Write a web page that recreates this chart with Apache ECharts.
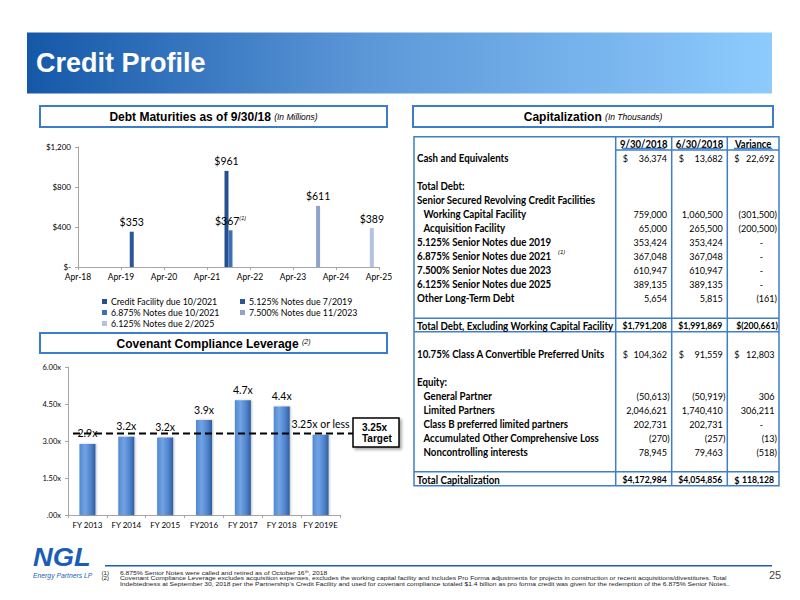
<!DOCTYPE html>
<html>
<head>
<meta charset="utf-8">
<script src="https://cdn.jsdelivr.net/npm/echarts@6/dist/echarts.min.js"></script>
<style>
html, body { margin: 0; padding: 0; background: #fff; }
#main { width: 800px; height: 600px; }
</style>
</head>
<body>
<div id="main"></div>
<script>
// debt maturities (in millions)
const maturityNames = ['Credit Facility due 10/2021', '5.125% Notes due 7/2019', '6.875% Notes due 10/2021', '7.500% Notes due 11/2023', '6.125% Notes due 2/2025'];
const maturityDates = ['2021-10', '2019-07', '2021-10', '2023-11', '2025-02'];
const maturityAmounts = [961, 353, 367, 611, 389];
const maturityNotes = ['', '', '(1)', '', ''];
const maturityTicks = ['Apr-18', 'Apr-19', 'Apr-20', 'Apr-21', 'Apr-22', 'Apr-23', 'Apr-24', 'Apr-25'];
const maturityYTicks = ['$-', '$400', '$800', '$1,200'];

// covenant compliance leverage
const leverageYears = ['FY 2013', 'FY 2014', 'FY 2015', 'FY2016', 'FY 2017', 'FY 2018', 'FY 2019E'];
const leverageValues = [2.88, 3.17, 3.14, 3.85, 4.65, 4.4, 3.25];
const leverageLabels = ['2.9x', '3.2x', '3.2x', '3.9x', '4.7x', '4.4x', '3.25x or less'];
const leverageYTicks = ['.00x', '1.50x', '3.00x', '4.50x', '6.00x'];
const targetLevel = 3.3;

// capitalization (in thousands)
const capHeaders = ['9/30/2018', '6/30/2018', 'Variance'];
const capLabels = [
    'Cash and Equivalents', '', 'Total Debt:', 'Senior Secured Revolving Credit Facilities',
    'Working Capital Facility', 'Acquisition Facility', '5.125% Senior Notes due 2019',
    '6.875% Senior Notes due 2021', '7.500% Senior Notes due 2023', '6.125% Senior Notes due 2025',
    'Other Long-Term Debt', '', 'Total Debt, Excluding Working Capital Facility', '',
    '10.75% Class A Convertible Preferred Units', '', 'Equity:', 'General Partner', 'Limited Partners',
    'Class B preferred limited partners', 'Accumulated Other Comprehensive Loss', 'Noncontrolling interests',
    '', 'Total Capitalization'
];
const capSep = [
    '$ 36,374', '', '', '', '759,000', '65,000', '353,424', '367,048', '610,947', '389,135', '5,654', '',
    '$1,791,208', '', '$ 104,362', '', '', '(50,613)', '2,046,621', '202,731', '(270)', '78,945', '', '$4,172,984'
];
const capJun = [
    '$ 13,682', '', '', '', '1,060,500', '265,500', '353,424', '367,048', '610,947', '389,135', '5,815', '',
    '$1,991,869', '', '$ 91,559', '', '', '(50,919)', '1,740,410', '202,731', '(257)', '79,463', '', '$4,054,856'
];
const capVar = [
    '$ 22,692', '', '', '', '(301,500)', '(200,500)', '-', '-', '-', '-', '(161)', '',
    '$(200,661)', '', '$ 12,803', '', '', '306', '306,211', '-', '(13)', '(518)', '', '$ 118,128'
];
const capNoteRow = 7;

const maturityColors = ['#24508f', '#2b5796', '#3f70b6', '#8ea4cd', '#b3c2df'];
const tableLine = '#3f7ec8';
const calibri = 'Lato';

function monthsFromStart(d) {
    const [y, m] = d.split('-').map(Number);
    return (y - 2018) * 12 + (m - 4);
}

// bars sharing a date sit side by side on axis 0, the rest centred on axis 1
const debtSeries = maturityNames.map((name, i) => {
    const shared = maturityDates.filter(d => d === maturityDates[i]).length > 1;
    return {
        name: name,
        type: 'bar',
        xAxisIndex: shared ? 0 : 1,
        yAxisIndex: 0,
        barWidth: 4,
        barGap: shared ? '0%' : '-100%',
        itemStyle: { color: maturityColors[i] },
        data: [[monthsFromStart(maturityDates[i]), maturityAmounts[i]]],
        label: {
            show: true,
            position: 'top',
            distance: 4,
            color: '#000',
            formatter: () => maturityNotes[i]
                ? '{v|$' + maturityAmounts[i] + '}{n|' + maturityNotes[i] + '}'
                : '{v|$' + maturityAmounts[i] + '}',
            rich: {
                v: { fontSize: 10.5, fontFamily: calibri, color: '#000' },
                n: { fontSize: 5.5, fontStyle: 'italic', fontFamily: 'Liberation Sans', verticalAlign: 'top', color: '#000' }
            }
        }
    };
});

const barGradient = new echarts.graphic.LinearGradient(0, 0, 1, 0, [
    { offset: 0, color: '#5089d0' },
    { offset: 0.35, color: '#72a3e4' },
    { offset: 0.75, color: '#4c80c9' },
    { offset: 1, color: '#2d5e9e' }
]);

const graphics = [];

// banner
graphics.push({
    type: 'rect', shape: { x: 27, y: 32.5, width: 745, height: 61 },
    style: {
        fill: new echarts.graphic.LinearGradient(0, 0, 1, 0, [
            { offset: 0, color: '#1558a8' },
            { offset: 0.45, color: '#5b96d7' },
            { offset: 1, color: '#8ecbfd' }
        ])
    }
});
graphics.push({
    type: 'text', x: 36, y: 63,
    style: { text: 'Credit Profile', fill: '#fff', fontSize: 27, fontWeight: 'bold', fontFamily: 'Liberation Sans', verticalAlign: 'middle' }
});

// section header boxes
function headerBox(x, y, w, h, text) {
    graphics.push({ type: 'rect', shape: { x: x, y: y, width: w, height: h }, style: { fill: '#fff', stroke: '#3b7dc9', lineWidth: 2 } });
    graphics.push({
        type: 'text', x: x + w / 2, y: y + h / 2 + 0.5,
        style: {
            text: text, align: 'center', verticalAlign: 'middle',
            rich: {
                b: { fontSize: 12, fontWeight: 'bold', fontFamily: 'Liberation Sans', fill: '#000' },
                i: { fontSize: 8.5, fontStyle: 'italic', fontFamily: 'Liberation Sans', fill: '#000' },
                s: { fontSize: 7, fontStyle: 'italic', fontFamily: 'Liberation Sans', fill: '#000', verticalAlign: 'top' }
            }
        }
    });
}
headerBox(40, 106, 347, 21, '{b|Debt Maturities as of 9/30/18} {i|(In Millions)}');
headerBox(40, 333, 347, 20, '{b|Covenant Compliance Leverage} {s|(2)}');
headerBox(413, 106, 360, 21, '{b|Capitalization} {i|(In Thousands)}');

// target box
graphics.push({
    type: 'rect', shape: { x: 353, y: 418, width: 46, height: 29 },
    style: { fill: '#fff', stroke: '#000', lineWidth: 1.5, shadowBlur: 3, shadowOffsetX: 2, shadowOffsetY: 2, shadowColor: 'rgba(0,0,0,0.35)' }
});
graphics.push({
    type: 'text', x: 362, y: 432.5,
    style: { text: '3.25x\nTarget', fontSize: 10, lineHeight: 11, fontWeight: 'bold', fontFamily: 'Liberation Sans', fill: '#000', verticalAlign: 'middle' }
});

// capitalization table
const tLeft = 414, tRight = 779, tTop = 136.7, tBottom = 485.7;
const colEdges = [615.7, 671.7, 727.3, 779];
const rowY = i => 157.3 + 14 * i;
function hLine(x1, x2, y) {
    graphics.push({ type: 'line', shape: { x1: x1, y1: y, x2: x2, y2: y }, style: { stroke: tableLine, lineWidth: 1.5 } });
}
function vLine(x, y1, y2) {
    graphics.push({ type: 'line', shape: { x1: x, y1: y1, x2: x, y2: y2 }, style: { stroke: tableLine, lineWidth: 1.5 } });
}
graphics.push({ type: 'rect', shape: { x: tLeft, y: tTop, width: tRight - tLeft, height: tBottom - tTop }, style: { fill: 'none', stroke: tableLine, lineWidth: 1.5 } });
colEdges.slice(0, 3).forEach(x => vLine(x, tTop, tBottom));
hLine(colEdges[0], tRight, 150);
hLine(tLeft, tRight, rowY(12) - 7);
hLine(tLeft, tRight, rowY(12) + 6.5);
hLine(tLeft, tRight, rowY(23) - 7.5);

function cellText(x, y, text, opts, scale) {
    graphics.push({
        type: 'text', x: x, y: y, scaleX: scale || 0.88,
        style: Object.assign({
            text: text, fontSize: 10.3, fontFamily: calibri, fill: '#000',
            align: 'left', verticalAlign: 'middle'
        }, opts || {})
    });
}

capHeaders.forEach((h, c) => {
    const cx = (colEdges[c] + colEdges[c + 1]) / 2;
    cellText(cx, rowY(-1), h, { align: 'center', fontWeight: 'bold', fontSize: 10.8 });
    const w = h.length * 4.8;
    hLine(cx - w / 2, cx + w / 2, 148.5);
});

const totalRows = [12, 23];
const indentRows = [4, 5, 17, 18, 19, 20, 21];
capLabels.forEach((label, i) => {
    if (!label) return;
    const x = indentRows.includes(i) ? 423.5 : 417;
    cellText(x, rowY(i), label, { fontWeight: 'bold', fontSize: 10.8 }, 0.9);
});
cellText(558, rowY(capNoteRow) - 3.5, '(1)', { fontSize: 6, fontStyle: 'italic', fontFamily: 'Liberation Sans' }, 1);

[capSep, capJun, capVar].forEach((col, c) => {
    const left = colEdges[c], right = colEdges[c + 1];
    col.forEach((v, i) => {
        if (!v) return;
        const bold = totalRows.includes(i);
        const weight = bold ? 'bold' : 'normal';
        let text = v;
        if (v.startsWith('$ ')) {
            cellText(left + 7, rowY(i), '$', { fontWeight: weight });
            text = v.slice(2);
        }
        let edge;
        if (text === '-') edge = right - 16;
        else if (text.endsWith(')')) edge = right - (bold ? 1 : 2);
        else edge = right - (bold ? 5 : 4.6);
        cellText(edge, rowY(i), text, { align: 'right', fontWeight: weight }, bold ? 0.84 : 0.88);
    });
});

// footer
graphics.push({ type: 'line', shape: { x1: 105, y1: 565.7, x2: 772, y2: 565.7 }, style: { stroke: '#1f5fa8', lineWidth: 1.5 } });
graphics.push({
    type: 'text', x: 33, y: 557, scaleX: 1.05,
    style: { text: 'NGL', fontSize: 26, fontWeight: 'bold', fontStyle: 'italic', fontFamily: 'Liberation Sans', fill: '#1a5fb4', verticalAlign: 'middle' }
});
graphics.push({
    type: 'text', x: 33, y: 575.5,
    style: { text: 'Energy Partners LP', fontSize: 6.8, fontStyle: 'italic', fontFamily: 'Liberation Sans', fill: '#1a5fb4', verticalAlign: 'middle' }
});
const footnotes = [
    ['(1)', '{t|6.875% Senior Notes were called and retired as of October 16}{s|th}{t|, 2018}'],
    ['(2)', '{t|Covenant Compliance Leverage excludes acquisition expenses, excludes the working capital facility and includes Pro Forma adjustments for projects in construction or recent acquisitions/divestitures. Total}'],
    ['', '{t|Indebtedness at September 30, 2018 per the Partnership\u2019s Credit Facility and used for covenant compliance totaled $1.4 billion as pro forma credit was given for the redemption of the 6.875% Senior Notes..}']
];
footnotes.forEach((f, i) => {
    const y = 572.3 + i * 5.6;
    if (f[0]) {
        graphics.push({ type: 'text', x: 101.5, y: y, style: { text: f[0], fontSize: 6.2, fontFamily: 'Liberation Sans', fill: '#222', verticalAlign: 'middle' } });
    }
    graphics.push({
        type: 'text', x: 120, y: y, scaleX: 1.12,
        style: {
            text: f[1], verticalAlign: 'middle',
            rich: {
                t: { fontSize: 6, fontFamily: 'Liberation Sans', fill: '#222' },
                s: { fontSize: 4, fontFamily: 'Liberation Sans', fill: '#222', verticalAlign: 'top' }
            }
        }
    });
});
graphics.push({
    type: 'text', x: 775, y: 574.5,
    style: { text: '25', fontSize: 11, fontFamily: 'Liberation Sans', fill: '#444', align: 'center', verticalAlign: 'middle' }
});

const axisGrey = { lineStyle: { color: '#a6a6a6' } };
const legendText = { fontSize: 8.8, lineHeight: 8, fontFamily: calibri, color: '#000', padding: [0, 0, 0, -1] };

const option = {
    animation: false,
    backgroundColor: '#fff',
    textStyle: { fontFamily: calibri },
    graphic: graphics,
    grid: [
        { left: 78, right: 421, top: 147, bottom: 333 },
        { left: 68, right: 460, top: 367, bottom: 85 },
        { left: 73, right: 447, top: 367, bottom: 85 }
    ],
    legend: [
        {
            data: [maturityNames[0], maturityNames[2], maturityNames[4]],
            orient: 'vertical', left: 97, top: 292, itemWidth: 5, itemHeight: 5, itemGap: 2,
            icon: 'rect', selectedMode: false, textStyle: legendText
        },
        {
            data: [maturityNames[1], maturityNames[3]],
            orient: 'vertical', left: 235, top: 292, itemWidth: 5, itemHeight: 5, itemGap: 2,
            icon: 'rect', selectedMode: false, textStyle: legendText
        }
    ],
    xAxis: [
        {
            type: 'value', gridIndex: 0, min: 0, max: 84, interval: 12,
            axisLine: axisGrey, axisTick: { show: true, length: 3, lineStyle: { color: '#a6a6a6' } },
            splitLine: { show: false },
            axisLabel: { fontSize: 8.5, color: '#000', margin: 5, formatter: v => maturityTicks[v / 12] || '' }
        },
        { type: 'value', gridIndex: 0, min: 0, max: 84, show: false },
        {
            type: 'category', gridIndex: 1, data: leverageYears,
            axisLine: axisGrey, axisTick: { show: true, length: 3, lineStyle: { color: '#a6a6a6' } },
            axisLabel: { fontSize: 8, color: '#000', margin: 6, interval: 0 }
        },
        { type: 'value', gridIndex: 2, min: 0, max: 1, show: false }
    ],
    yAxis: [
        {
            type: 'value', gridIndex: 0, min: 0, max: 1200, interval: 400,
            axisLine: { show: true, lineStyle: { color: '#a6a6a6' } },
            axisTick: { show: true, length: 3, lineStyle: { color: '#a6a6a6' } },
            splitLine: { show: false },
            axisLabel: { fontSize: 8, color: '#000', margin: 7, formatter: v => maturityYTicks[v / 400] }
        },
        {
            type: 'value', gridIndex: 1, min: 0, max: 6, interval: 1.5,
            axisLine: { show: true, lineStyle: { color: '#a6a6a6' } },
            axisTick: { show: true, length: 3, lineStyle: { color: '#a6a6a6' } },
            splitLine: { show: false },
            axisLabel: { fontSize: 7.5, color: '#000', margin: 7, formatter: v => leverageYTicks[Math.round(v / 1.5)] }
        },
        { type: 'value', gridIndex: 2, min: 0, max: 6, show: false }
    ],
    series: debtSeries.concat([
        {
            name: 'Covenant Compliance Leverage',
            type: 'bar',
            xAxisIndex: 2,
            yAxisIndex: 1,
            barWidth: 16,
            data: leverageValues,
            itemStyle: { color: barGradient, shadowBlur: 2, shadowOffsetX: 1, shadowColor: 'rgba(0,0,0,0.25)' },
            label: {
                show: true, position: 'top', distance: 5, fontSize: 10.5, color: '#000', fontFamily: calibri,
                formatter: p => leverageLabels[p.dataIndex]
            }
        },
        {
            name: 'Target',
            type: 'line',
            xAxisIndex: 3,
            yAxisIndex: 2,
            symbol: 'none',
            silent: true,
            z: 5,
            data: [[0, targetLevel], [1, targetLevel]],
            lineStyle: { color: '#000', width: 2, type: [7, 4] }
        }
    ])
};

const chart = echarts.init(document.getElementById('main'), null, { renderer: 'svg' });
chart.setOption(option);
</script>
</body>
</html>
